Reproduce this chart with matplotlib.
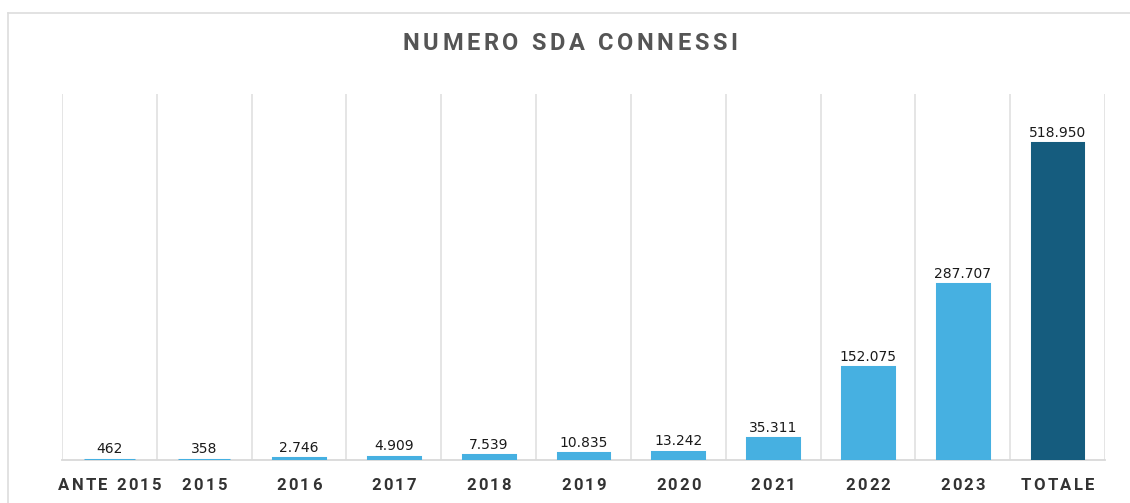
import matplotlib.pyplot as plt
import matplotlib.lines as mlines
from matplotlib.font_manager import FontProperties
import numpy as np

categories = ["ANTE 2015", "2015", "2016", "2017", "2018", "2019", "2020",
              "2021", "2022", "2023", "TOTALE"]
values = [462, 358, 2746, 4909, 7539, 10835, 13242, 35311, 152075, 287707, 518950]
labels = ["462", "358", "2.746", "4.909", "7.539", "10.835", "13.242",
          "35.311", "152.075", "287.707", "518.950"]

light = "#46B0E1"
dark = "#155C7E"
colors = [light] * (len(values) - 1) + [dark]

W, H = 1130, 503
fig = plt.figure(figsize=(W / 100, H / 100), dpi=100)
ax = fig.add_axes([62 / W, 1 - 460 / H, (1105 - 62) / W, (460 - 94) / H])
renderer = fig.canvas.get_renderer()


def spaced_text(xc, yc, s, size, color, spacing):
    # draw text with extra letter spacing, centred at (xc, yc) in pixels from top-left
    prop = FontProperties(family=["Roboto", "DejaVu Sans"], weight="bold", size=size)
    widths = [renderer.get_text_width_height_descent(c, prop, ismath=False)[0]
              for c in s]
    total = sum(widths) + spacing * (len(s) - 1)
    left = xc - total / 2
    for c, w in zip(s, widths):
        fig.text(left / W, 1 - yc / H, c, fontproperties=prop, color=color,
                 ha="left", va="center")
        left += w + spacing


x = np.arange(len(categories))
ax.bar(x, values, width=0.545, color=colors, edgecolor=colors, linewidth=2.2,
       joinstyle="miter", zorder=3)
for xi, v, lab in zip(x, values, labels):
    ax.text(xi, v + 6000, lab, ha="center", va="bottom", fontsize=10,
            color="#1a1a1a", zorder=4)

ax.set_xlim(-0.5, len(categories) - 0.5)
ax.set_ylim(0, 600000)
ax.set_yticks([])
ax.set_xticks(x)
ax.set_xticklabels([])
ax.tick_params(axis="x", length=0)
ax.set_xticks(np.arange(-0.5, len(categories), 1), minor=True)
ax.tick_params(axis="x", which="minor", length=0)
ax.grid(axis="x", which="minor", color="#e3e3e3", linewidth=1.3, zorder=0)
for s in ["top", "left", "right"]:
    ax.spines[s].set_visible(False)
ax.spines["bottom"].set_color("#d9d9d9")
ax.spines["bottom"].set_linewidth(1.3)
ax.spines["bottom"].set_zorder(2)

# category labels, letter-spaced
step = (1105 - 62) / len(categories)
for i, cat in enumerate(categories):
    spaced_text(62 + step * (i + 0.5), 485, cat, 12, "#333333", 2.2)

spaced_text(570, 44, "NUMERO SDA CONNESSI", 17, "#555555", 3.6)

# outer frame of the chart area
fig.add_artist(mlines.Line2D([8 / W, 8 / W], [0, 1 - 13 / H],
                             color="#dddddd", linewidth=1.2))
fig.add_artist(mlines.Line2D([8 / W, 1], [1 - 13 / H, 1 - 13 / H],
                             color="#dddddd", linewidth=1.2))

fig.savefig("out.png", dpi=100)
